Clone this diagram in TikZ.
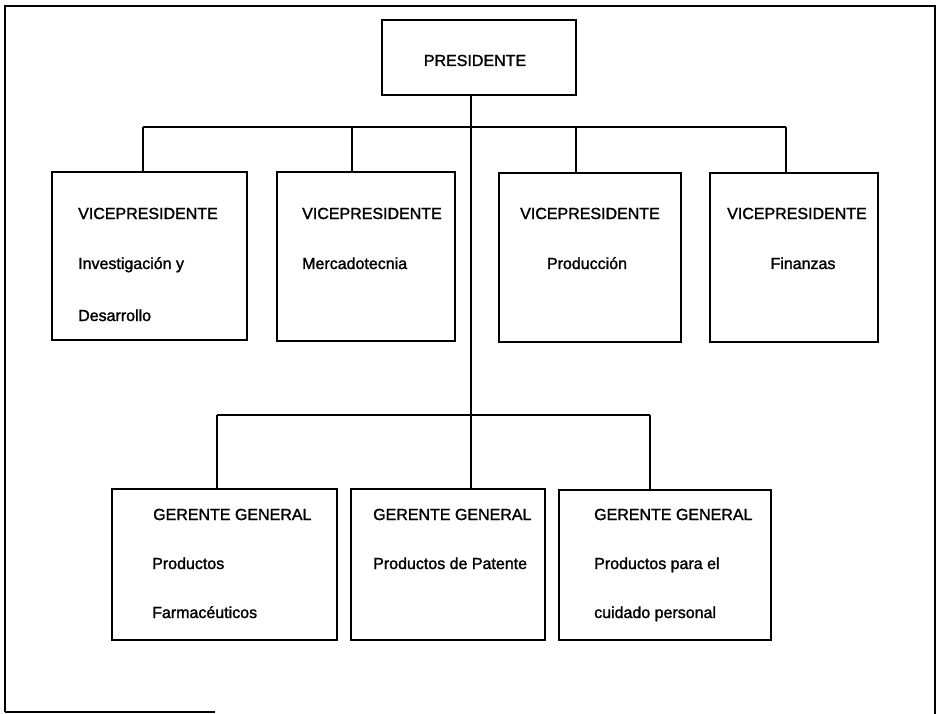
\documentclass[tikz,border=0pt]{standalone}
\usepackage{fontspec}
\setmainfont{Liberation Sans}
\newfontfamily\inkfont{Liberation Sans}[FakeBold=1.6]
\begin{document}
\begin{tikzpicture}[x=1pt,y=-1pt,
  orgbox/.style={draw=black,line width=2.4pt,inner sep=0pt},
  lbl/.style={anchor=base west,inner sep=0pt,font=\inkfont\fontsize{16}{19}\selectfont},
  clbl/.style={anchor=base,inner sep=0pt,font=\inkfont\fontsize{16}{19}\selectfont},
  link/.style={draw=black,line width=2.4pt},
  framestyle/.style={draw=black,line width=2.8pt}]
\useasboundingbox (0,0) rectangle (937,714);
% outer frame
\coordinate (f1) at (5,712);
\coordinate (f2) at (5,6);
\coordinate (f3) at (935,6);
\coordinate (f4) at (935,714);
\coordinate (f5) at (215,712);
\draw[framestyle] (f1) -- (f2) -- (f3) -- (f4);
\draw[framestyle,line width=1.4pt] (f1) -- (f5);
% boxes
\node[orgbox,minimum width=194pt,minimum height=75pt] (pres) at (479,57.5) {};
\node[orgbox,minimum width=195pt,minimum height=168pt] (vp1) at (149.5,256) {};
\node[orgbox,minimum width=178pt,minimum height=169pt] (vp2) at (366,256.5) {};
\node[orgbox,minimum width=182pt,minimum height=169pt] (vp3) at (590,257.5) {};
\node[orgbox,minimum width=168pt,minimum height=169pt] (vp4) at (794,257.5) {};
\node[orgbox,minimum width=225pt,minimum height=151pt] (gg1) at (224.5,564.5) {};
\node[orgbox,minimum width=194pt,minimum height=151pt] (gg2) at (448,564.5) {};
\node[orgbox,minimum width=212pt,minimum height=150pt] (gg3) at (665,565) {};
% texts
\node[clbl] (tpres) at (475,66) {PRESIDENTE};
\node[lbl] (tv1a) at (78,219) {VICEPRESIDENTE};
\node[lbl] (tv1b) at (78,269) {Investigación y};
\node[lbl] (tv1c) at (78,321) {Desarrollo};
\node[lbl] (tv2a) at (302,219) {VICEPRESIDENTE};
\node[lbl] (tv2b) at (302,269) {Mercadotecnia};
\node[lbl] (tv3a) at (520,219) {VICEPRESIDENTE};
\node[clbl] (tv3b) at (587,269) {Producción};
\node[lbl] (tv4a) at (727,219) {VICEPRESIDENTE};
\node[clbl] (tv4b) at (803,269) {Finanzas};
\node[lbl] (tg1a) at (153,520) {GERENTE GENERAL};
\node[lbl] (tg1b) at (152,569) {Productos};
\node[lbl] (tg1c) at (152,618) {Farmacéuticos};
\node[lbl] (tg2a) at (373,520) {GERENTE GENERAL};
\node[lbl] (tg2b) at (373,569) {Productos de Patente};
\node[lbl] (tg3a) at (594,520) {GERENTE GENERAL};
\node[lbl] (tg3b) at (594,569) {Productos para el};
\node[lbl] (tg3c) at (594,618) {cuidado personal};
% connector points
\coordinate (u1) at (143,127);
\coordinate (u2) at (352,127);
\coordinate (u3) at (576,127);
\coordinate (u4) at (786,127);
\coordinate (ut) at (471,127);
\coordinate (l1) at (217,415);
\coordinate (l2) at (471,415);
\coordinate (l3) at (650,415);
% connectors
\draw[link] (pres.south -| ut) -- (gg2.north -| ut);
\draw[link] (u1) -- (u4);
\draw[link] (u1) -- (vp1.north -| u1);
\draw[link] (u2) -- (vp2.north -| u2);
\draw[link] (u3) -- (vp3.north -| u3);
\draw[link] (u4) -- (vp4.north -| u4);
\draw[link] (l1) -- (l3);
\draw[link] (l1) -- (gg1.north -| l1);
\draw[link] (l3) -- (gg3.north -| l3);
\end{tikzpicture}
\end{document}
